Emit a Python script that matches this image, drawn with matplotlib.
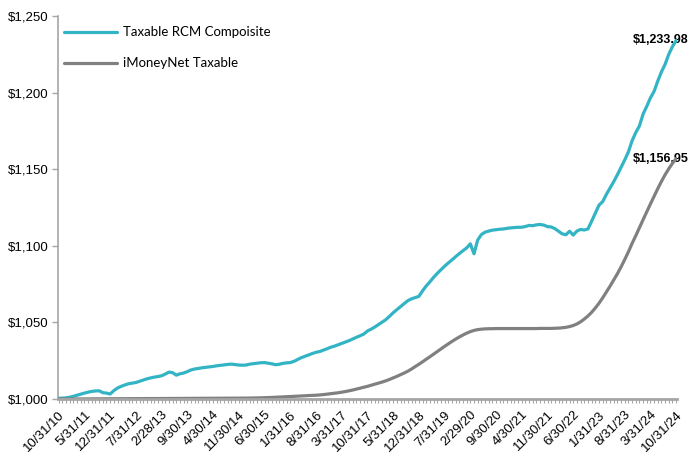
"""
Taxable RCM Composite vs iMoneyNet Taxable, growth of $1,000
Monthly values 10/31/10 - 10/31/24, read off the reference chart
"""
import matplotlib
matplotlib.use("agg")  # noqa: E402
import matplotlib.pyplot as plt
from matplotlib.ticker import FuncFormatter, MultipleLocator

plt.rcParams["font.family"] = ["Liberation Sans", "DejaVu Sans"]

SERIES_NAMES = ["Taxable RCM Compoisite", "iMoneyNet Taxable"]

# month-end values, 10/31/10 .. 10/31/24 (169 months)
rcm_composite = [
    1000.5, 1000.6, 1000.8, 1001.2, 1001.8, 1002.5, 1003.2, 1003.9, 1004.5, 1005.0,
    1005.3, 1005.4, 1004.2, 1003.9, 1003.3, 1005.5, 1007.2, 1008.3, 1009.2, 1010.0,
    1010.4, 1010.8, 1011.6, 1012.4, 1013.2, 1013.8, 1014.3, 1014.7, 1015.2, 1016.3,
    1017.6, 1017.2, 1015.6, 1016.5, 1017.0, 1017.9, 1019.0, 1019.6, 1020.0, 1020.4,
    1020.7, 1021.0, 1021.3, 1021.7, 1022.0, 1022.3, 1022.6, 1022.8, 1022.5, 1022.2,
    1022.1, 1022.2, 1022.8, 1023.1, 1023.4, 1023.7, 1023.8, 1023.4, 1023.0, 1022.4,
    1022.7, 1023.3, 1023.6, 1023.8, 1024.6, 1025.8, 1027.0, 1027.9, 1028.8, 1029.7,
    1030.5, 1031.0, 1031.9, 1032.8, 1033.8, 1034.5, 1035.4, 1036.3, 1037.2, 1038.1,
    1039.2, 1040.3, 1041.3, 1042.4, 1044.4, 1045.6, 1047.0, 1048.6, 1050.2, 1051.8,
    1054.0, 1056.3, 1058.3, 1060.3, 1062.3, 1064.2, 1065.4, 1066.2, 1067.0, 1070.6,
    1073.8, 1076.5, 1079.4, 1082.0, 1084.4, 1086.7, 1088.8, 1090.8, 1092.9, 1094.9,
    1096.8, 1098.6, 1101.3, 1094.8, 1103.8, 1107.3, 1108.9, 1109.6, 1110.2, 1110.5,
    1110.8, 1111.0, 1111.4, 1111.7, 1111.9, 1112.1, 1112.1, 1112.6, 1113.3, 1113.1,
    1113.7, 1113.9, 1113.5, 1112.5, 1112.3, 1111.2, 1109.5, 1107.8, 1107.2, 1109.5,
    1107.0, 1109.6, 1110.7, 1110.3, 1111.0, 1116.0, 1121.3, 1126.5, 1128.8, 1133.5,
    1137.6, 1141.8, 1146.3, 1151.2, 1156.0, 1161.2, 1168.5, 1173.8, 1178.2, 1185.9,
    1191.0, 1196.5, 1200.8, 1207.5, 1213.5, 1218.5, 1225.0, 1230.0, 1233.98,
]

imoneynet_taxable = [
    1000.00, 1000.02, 1000.04, 1000.06, 1000.08, 1000.10, 1000.11, 1000.12, 1000.13, 1000.14,
    1000.15, 1000.16, 1000.17, 1000.18, 1000.19, 1000.20, 1000.21, 1000.22, 1000.23, 1000.24,
    1000.25, 1000.26, 1000.27, 1000.28, 1000.29, 1000.30, 1000.31, 1000.32, 1000.33, 1000.34,
    1000.35, 1000.36, 1000.37, 1000.38, 1000.39, 1000.40, 1000.41, 1000.42, 1000.43, 1000.44,
    1000.45, 1000.46, 1000.47, 1000.48, 1000.49, 1000.50, 1000.52, 1000.54, 1000.56, 1000.58,
    1000.60, 1000.63, 1000.66, 1000.70, 1000.74, 1000.80, 1000.88, 1000.97, 1001.07, 1001.17,
    1001.28, 1001.40, 1001.52, 1001.64, 1001.77, 1001.90, 1002.04, 1002.18, 1002.33, 1002.41,
    1002.50, 1002.70, 1002.90, 1003.20, 1003.50, 1003.80, 1004.10, 1004.50, 1004.90, 1005.40,
    1005.90, 1006.50, 1007.10, 1007.70, 1008.30, 1009.00, 1009.70, 1010.40, 1011.10, 1011.90,
    1012.80, 1013.80, 1014.80, 1015.90, 1017.00, 1018.20, 1019.60, 1021.20, 1022.70, 1024.30,
    1026.00, 1027.60, 1029.30, 1031.00, 1032.70, 1034.40, 1036.00, 1037.60, 1039.10, 1040.50,
    1041.80, 1043.00, 1044.00, 1044.80, 1045.30, 1045.60, 1045.80, 1045.90, 1045.90, 1046.00,
    1046.00, 1046.00, 1046.00, 1046.00, 1046.00, 1046.00, 1046.00, 1046.00, 1046.00, 1046.00,
    1046.00, 1046.10, 1046.10, 1046.10, 1046.10, 1046.20, 1046.30, 1046.50, 1046.80, 1047.30,
    1048.00, 1049.00, 1050.40, 1052.20, 1054.20, 1056.60, 1059.40, 1062.50, 1066.00, 1069.80,
    1073.60, 1077.60, 1081.70, 1086.20, 1091.00, 1096.00, 1101.50, 1106.50, 1111.80, 1117.00,
    1122.20, 1127.30, 1132.30, 1137.30, 1142.00, 1146.40, 1150.30, 1153.80, 1156.95,
]

# every 7th month is labelled
tick_labels = [
    "10/31/10", "5/31/11", "12/31/11", "7/31/12", "2/28/13", "9/30/13", "4/30/14",
    "11/30/14", "6/30/15", "1/31/16", "8/31/16", "3/31/17", "10/31/17", "5/31/18",
    "12/31/18", "7/31/19", "2/29/20", "9/30/20", "4/30/21", "11/30/21", "6/30/22",
    "1/31/23", "8/31/23", "3/31/24", "10/31/24",
]
LABEL_STEP = 7

TEAL = "#33b4c5"
GRAY = "#808080"
AXIS_GRAY = "#a6a6a6"


def dollars(v, pos=None):
    return f"${v:,.0f}"


def main():
    fig = plt.figure(figsize=(6.9, 4.54), dpi=100)
    ax = fig.add_axes([0.084, 0.121, 0.897, 0.844])

    months = range(len(rcm_composite))
    ax.plot(months, rcm_composite, color=TEAL, lw=2.3,
            label=SERIES_NAMES[0], solid_capstyle="round", zorder=3)
    ax.plot(months, imoneynet_taxable, color=GRAY, lw=2.3,
            label=SERIES_NAMES[1], solid_capstyle="round", zorder=3)

    # end-of-period value labels
    for series in (rcm_composite, imoneynet_taxable):
        ax.annotate(f"${series[-1]:,.2f}", (len(series) - 1, series[-1]),
                    xytext=(-43, 0), textcoords="offset pixels",
                    ha="left", va="center", fontsize=9, fontweight="bold",
                    annotation_clip=False, zorder=2)

    ax.set_xlim(-0.2, len(rcm_composite) - 0.8)
    ax.set_ylim(1000, 1250)

    # y axis
    ax.yaxis.set_major_locator(MultipleLocator(50))
    ax.yaxis.set_major_formatter(FuncFormatter(dollars))
    ax.tick_params(axis="y", length=4, width=1, color=AXIS_GRAY, pad=3,
                   labelsize=9.5)

    # x axis: a tick every month, label every 7th
    ax.set_xticks(list(months), minor=True)
    ax.set_xticks([i * LABEL_STEP for i in range(len(tick_labels))])
    ax.set_xticklabels(tick_labels, rotation=45, ha="right",
                       rotation_mode="anchor")
    ax.tick_params(axis="x", which="both", length=3, width=0.8,
                   color=AXIS_GRAY, labelsize=9.5, pad=4)

    for side in ("top", "right"):
        ax.spines[side].set_visible(False)
    ax.spines["left"].set_color(AXIS_GRAY)
    ax.spines["left"].set_linewidth(1.2)
    ax.spines["bottom"].set_color(AXIS_GRAY)
    ax.spines["bottom"].set_linewidth(2)
    ax.spines["bottom"].set_zorder(4)

    ax.legend(loc="upper left", frameon=False, handlelength=4.0,
              handletextpad=0.5, labelspacing=1.45, borderaxespad=0.3,
              prop={"family": "Lato", "size": 9.5},
              bbox_to_anchor=(-0.005, 0.997))

    fig.savefig("out.png", dpi=100)


if __name__ == "__main__":
    main()
